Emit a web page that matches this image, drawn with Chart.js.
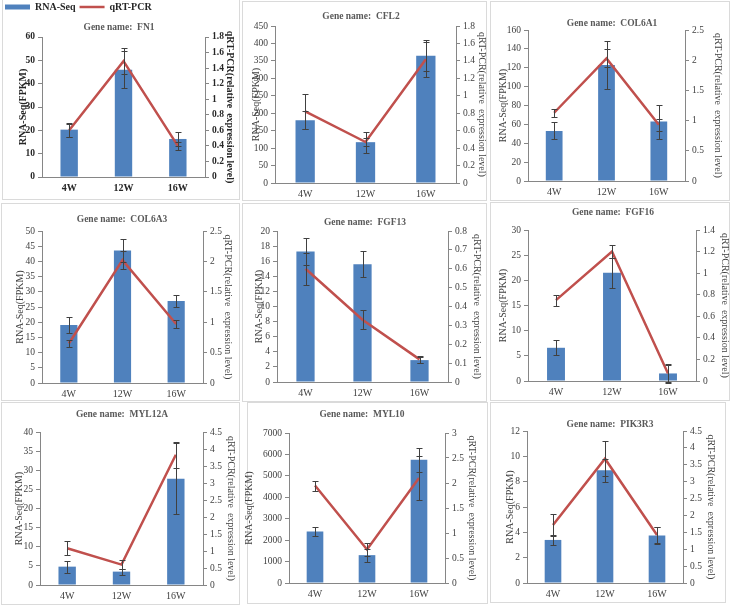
<!DOCTYPE html>
<html>
<head>
<meta charset="utf-8">
<script src="https://cdn.jsdelivr.net/npm/chart.js@4.4.0/dist/chart.umd.min.js"></script>
<style>
  html, body { margin: 0; padding: 0; background: #fff; }
  body { width: 733px; height: 607px; position: relative; overflow: hidden; }
  .frame { position: absolute; border: 1px solid #dadada; box-sizing: border-box; }
  canvas { position: absolute; }
</style>
</head>
<body>
<script>
const weeks = ['4W', '12W', '16W'];
const genes = ['FN1', 'CFL2', 'COL6A1', 'COL6A3', 'FGF13', 'FGF16', 'MYL12A', 'MYL10', 'PIK3R3'];

// RNA-Seq (FPKM), bars
const rnaSeq = [
  [20.3, 46, 16.3],
  [180, 117, 365],
  [53, 123, 63],
  [19.1, 43.6, 27],
  [17.3, 15.6, 2.9],
  [6.6, 21.5, 1.5],
  [4.8, 3.5, 27.8],
  [2400, 1300, 5750],
  [3.4, 8.9, 3.75]
];
const rnaSeqErr = [
  [3, 8, 3],
  [25, 30, 45],
  [9, 25, 18],
  [2.5, 3.7, 2],
  [1.8, 1.7, 0.4],
  [1.5, 3, 1.7],
  [1.6, 0.8, 9.2],
  [200, 300, 550],
  [0.4, 0.9, 0.7]
];

// qRT-PCR relative expression, line
const qpcr = [
  [0.6, 1.49, 0.4],
  [0.82, 0.47, 1.42],
  [1.13, 2.03, 0.93],
  [0.65, 2.02, 0.97],
  [0.6, 0.33, 0.12],
  [0.75, 1.2, 0.07],
  [1.08, 0.6, 3.83],
  [1.95, 0.67, 2.1],
  [1.72, 3.68, 1.42]
];
const qpcrErr = [
  [0.08, 0.17, 0.05],
  [0.2, 0.05, 0.2],
  [0.07, 0.15, 0.1],
  [0.05, 0.15, 0.06],
  [0.085, 0.05, 0.02],
  [0.05, 0.06, 0.09],
  [0.2, 0.13, 0.38],
  [0.1, 0.13, 0.44],
  [0.32, 0.52, 0.25]
];

// axis ticks: [max, step]
const leftTicks = [[60, 10], [450, 50], [160, 20], [50, 5], [20, 2], [30, 5], [40, 5], [7000, 1000], [12, 2]];
const rightTicks = [[1.8, 0.2], [1.8, 0.2], [2.5, 0.5], [2.5, 0.5], [0.8, 0.1], [1.4, 0.2], [4.5, 0.5], [3, 0.5], [4.5, 0.5]];

// page layout (px)
const frames = [
  [2, -1, 238, 201], [242, 1, 245, 200], [490, 1, 240, 200],
  [1, 203, 239, 198], [242, 203, 245, 199], [490, 202, 240, 199],
  [1, 402, 239, 203], [247, 402, 241, 202], [490, 402, 236, 201]
];
const plotAreas = [ // left, top, right, bottom
  [42, 37, 205, 177], [275, 26, 456, 183], [528, 30, 685, 181],
  [42, 231, 203, 383], [277, 231, 448, 382], [528, 230, 696, 381],
  [40, 432, 203, 585], [289, 433, 445, 583], [527, 431, 683, 583]
];
const titleAt = [[119, 28], [361, 17], [612, 24], [122, 220], [365, 223], [613, 213], [122, 415], [362, 415], [610, 425]];
const axisTitleX = [[23, 230], [256, 482], [503, 718], [20, 228], [259, 477], [503, 725], [19, 231], [249, 472], [510, 711]];

const BLUE = '#4f81bd';
const RED = '#c0504d';
const AXIS = '#868686';
const SERIF = 'Liberation Serif';

// error bars for both series, drawn through the chart scales
const errorBars = {
  id: 'errorBars',
  afterDatasetsDraw(chart) {
    const ctx = chart.ctx;
    ctx.save();
    ctx.strokeStyle = '#404040';
    ctx.lineWidth = 1;
    chart.data.datasets.forEach((ds, i) => {
      const meta = chart.getDatasetMeta(i);
      const scale = chart.scales[meta.yAxisID];
      meta.data.forEach((el, j) => {
        const x = Math.round(el.x) + 0.5;
        const hi = Math.round(scale.getPixelForValue(ds.data[j] + ds.errors[j])) + 0.5;
        const lo = Math.round(scale.getPixelForValue(ds.data[j] - ds.errors[j])) + 0.5;
        ctx.beginPath();
        ctx.moveTo(x, hi); ctx.lineTo(x, lo);
        ctx.moveTo(x - 3, hi); ctx.lineTo(x + 3, hi);
        ctx.moveTo(x - 3, lo); ctx.lineTo(x + 3, lo);
        ctx.stroke();
      });
    });
    ctx.restore();
  }
};

const fmt = v => String(Number(v.toFixed(2)));

genes.forEach((gene, i) => {
  const first = i === 0;
  const [fx, fy, fw, fh] = frames[i];
  const [l, t, r, b] = plotAreas[i];
  const [tx, ty] = titleAt[i];
  const [ltx, rtx] = axisTitleX[i];

  const frame = document.createElement('div');
  frame.className = 'frame';
  Object.assign(frame.style, { left: fx + 'px', top: fy + 'px', width: fw + 'px', height: fh + 'px' });
  document.body.appendChild(frame);

  const cw = first ? 236 : 260;
  const cx = first ? 1 : tx - cw / 2;
  const cy = first ? -2 : ty - 16;
  const legendH = first ? 16 : 0;
  const ch = b - cy + 30;
  const titleLH = 9.5 * 1.2;
  const titleTop = cy + legendH;

  const canvas = document.createElement('canvas');
  canvas.width = cw;
  canvas.height = ch;
  Object.assign(canvas.style, { left: cx + 'px', top: cy + 'px', width: cw + 'px', height: ch + 'px' });
  document.body.appendChild(canvas);

  const txt = first ? '#262626' : '#404040';
  const weight = first ? 'bold' : 'normal';
  const tickFont = { family: SERIF, size: 9.5, weight };
  const axisTitleFont = { family: SERIF, size: 10, weight, lineHeight: 1.2 };

  new Chart(canvas.getContext('2d'), {
    type: 'bar',
    data: {
      labels: weeks,
      datasets: [
        {
          type: 'bar',
          label: 'RNA-Seq',
          data: rnaSeq[i],
          errors: rnaSeqErr[i],
          backgroundColor: BLUE,
          borderWidth: 0,
          pointStyle: 'rect',
          categoryPercentage: 1,
          barPercentage: 0.32,
          yAxisID: 'y',
          order: 2
        },
        {
          type: 'line',
          label: 'qRT-PCR',
          data: qpcr[i],
          errors: qpcrErr[i],
          borderColor: RED,
          backgroundColor: RED,
          borderWidth: 2.5,
          pointRadius: 0,
          pointStyle: 'line',
          tension: 0,
          yAxisID: 'y1',
          order: 1
        }
      ]
    },
    options: {
      responsive: false,
      animation: false,
      devicePixelRatio: 1,
      layout: { autoPadding: false, padding: { left: 0, right: 0, top: 0, bottom: 10 } },
      plugins: {
        tooltip: { enabled: false },
        legend: {
          display: first,
          position: 'top',
          align: 'start',
          weight: 3000,
          maxHeight: legendH,
          labels: {
            usePointStyle: true,
            pointStyleWidth: 25,
            boxHeight: 5,
            padding: 4,
            color: '#262626',
            font: { family: SERIF, size: 10, weight: 'bold' },
            sort: (a, b) => a.datasetIndex - b.datasetIndex
          }
        },
        title: {
          display: true,
          text: 'Gene name:  ' + gene,
          color: '#595959',
          font: { family: SERIF, size: 9.5, weight: 'bold', lineHeight: 1.2 },
          padding: { top: ty - titleTop - titleLH / 2, bottom: t - ty - titleLH / 2 }
        }
      },
      scales: {
        x: {
          grid: { display: false, drawTicks: false },
          border: { display: true, color: AXIS },
          ticks: { color: txt, font: { family: SERIF, size: 10, weight }, padding: 5, maxRotation: 0 },
          afterFit: s => { s.height = 20; }
        },
        y: {
          position: 'left',
          min: 0,
          max: leftTicks[i][0],
          grid: { drawOnChartArea: false, drawTicks: true, tickLength: 4, color: AXIS },
          border: { display: true, color: AXIS },
          ticks: { stepSize: leftTicks[i][1], color: txt, font: tickFont, padding: 3, callback: fmt },
          title: {
            display: true,
            text: 'RNA-Seq(FPKM)',
            color: txt,
            font: axisTitleFont,
            padding: { top: ltx - cx - 6, bottom: 0 }
          },
          afterFit: s => { s.width = l - cx; }
        },
        y1: {
          position: 'right',
          min: 0,
          max: rightTicks[i][0],
          grid: { drawOnChartArea: false, drawTicks: true, tickLength: 4, color: AXIS },
          border: { display: true, color: AXIS },
          ticks: { stepSize: rightTicks[i][1], color: txt, font: tickFont, padding: 3, callback: fmt },
          title: {
            display: true,
            text: 'qRT-PCR(relative  expression level)',
            color: txt,
            font: axisTitleFont,
            padding: { top: cx + cw - 6 - rtx, bottom: 0 }
          },
          afterFit: s => { s.width = cx + cw - r; }
        }
      }
    },
    plugins: [errorBars]
  });
});
</script>
</body>
</html>
